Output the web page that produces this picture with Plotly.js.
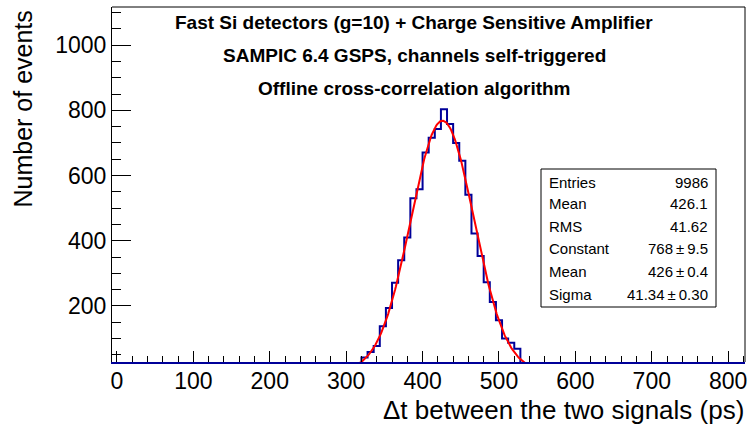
<!DOCTYPE html>
<html>
<head>
<meta charset="utf-8">
<script src="https://cdn.plot.ly/plotly-3.0.1.min.js"></script>
<style>
html,body{margin:0;padding:0;background:#fff;}
#chart{width:748px;height:425px;}
</style>
</head>
<body>
<div id="chart"></div>
<script>
// Histogram bins (lower edge, ps) and counts
var binStart = [320, 328, 336, 344, 352, 360, 368, 376, 384, 392, 400, 408, 416,
                424, 432, 440, 448, 456, 464, 472, 480, 488, 496, 504, 512, 520];
var binCounts = [42, 59, 77, 138, 194, 271, 340, 410, 530, 558, 671, 716, 743,
                 803, 758, 700, 645, 541, 422, 353, 273, 212, 156, 100, 87, 69];
var binWidth = 8;

// Fit parameters (from the stats box)
var fitConstant = 768;
var fitMean = 426;
var fitSigma = 41.34;

// Stats box rows
var statLabels = ["Entries", "Mean", "RMS", "Constant", "Mean", "Sigma"];
var statValues = ["9986", "426.1", "41.62", "768\u2009\u00b1\u20099.5", "426\u2009\u00b1\u20090.4", "41.34\u2009\u00b1\u20090.30"];

var titleLines = ["Fast Si detectors (g=10) + Charge Sensitive Amplifier",
                  "SAMPIC 6.4 GSPS, channels self-triggered",
                  "Offline cross-correlation algorithm"];

// histogram step outline
var hx = [binStart[0] - binWidth], hy = [0];
for (var i = 0; i < binStart.length; i++) { hx.push(binStart[i]); hy.push(binCounts[i]); }
hx.push(binStart[binStart.length - 1] + binWidth); hy.push(0);

// fit curve evaluated from the fit parameters
var fx = [], fy = [];
for (var t = 300; t <= 560; t += 1) {
  fx.push(t);
  fy.push(fitConstant * Math.exp(-0.5 * Math.pow((t - fitMean) / fitSigma, 2)));
}

var FONT = "Liberation Sans, Arial, Helvetica, sans-serif";

var traces = [
  {x: hx, y: hy, type: "scatter", mode: "lines", line: {shape: "hv", color: "#000099", width: 2}, hoverinfo: "skip"},
  {x: fx, y: fy, type: "scatter", mode: "lines", line: {color: "#ff0000", width: 2}, hoverinfo: "skip"}
];

var L = 112, R = 745, T = 7, B = 362;
function px(x){ return (x - L) / (R - L); }
function py(y){ return (B - y) / (B - T); }

var annotations = [];
var titleY = [22, 55, 88];
titleLines.forEach(function(s, k){
  annotations.push({xref:"paper", yref:"paper", x: px(414), y: py(titleY[k]), text: "<b>"+s+"</b>",
    showarrow:false, xanchor:"center", yanchor:"middle", font:{family:FONT, size:19, color:"#000"}});
});
var rowY = [182, 204, 226, 248, 271, 294];
statLabels.forEach(function(s, k){
  annotations.push({xref:"paper", yref:"paper", x: px(547), y: py(rowY[k]), text: s,
    showarrow:false, xanchor:"left", yanchor:"middle", font:{family:FONT, size:15, color:"#000"}});
  annotations.push({xref:"paper", yref:"paper", x: px(710), y: py(rowY[k]), text: statValues[k],
    showarrow:false, xanchor:"right", yanchor:"middle", font:{family:FONT, size:15, color:"#000"}});
});
annotations.push({xref:"paper", yref:"paper", x: px(22), y: py(9), text: "Number of events",
  textangle:-90, showarrow:false, xanchor:"center", yanchor:"top", font:{family:FONT, size:25, color:"#000"}});
annotations.push({xref:"paper", yref:"paper", x: px(746), y: py(410), text: "\u0394t between the two signals (ps)",
  showarrow:false, xanchor:"right", yanchor:"middle", font:{family:FONT, size:26, color:"#000"}});

var layout = {
  width: 748, height: 425,
  margin: {l: L, r: 748 - R, t: T, b: 425 - B},
  paper_bgcolor: "#fff", plot_bgcolor: "#fff",
  showlegend: false,
  font: {family: FONT, color: "#000"},
  xaxis: {range: [-6.5, 822], tick0: 0, dtick: 100, ticks: "inside", ticklen: 11, tickwidth: 1, tickcolor: "#000",
    minor: {dtick: 20, ticks: "inside", ticklen: 6, tickwidth: 1, tickcolor: "#000", showgrid: false},
    showgrid: false, zeroline: false, showline: true, linecolor: "#000099", linewidth: 2, mirror: false,
    ticklabelstandoff: -3,
    tickfont: {family: FONT, size: 23, color: "#000"}},
  yaxis: {range: [28, 1117], tick0: 0, dtick: 200, ticks: "inside", ticklen: 19, tickwidth: 1, tickcolor: "#000",
    minor: {dtick: 50, ticks: "inside", ticklen: 9, tickwidth: 1, tickcolor: "#000", showgrid: false},
    showgrid: false, zeroline: false, showline: true, linecolor: "#000", linewidth: 1, mirror: false,
    tickfont: {family: FONT, size: 23, color: "#000"}},
  shapes: [
    {type:"line", xref:"paper", yref:"paper", x0:0, x1:1, y0:1, y1:1, line:{color:"#000", width:1}},
    {type:"line", xref:"paper", yref:"paper", x0:1, x1:1, y0:0, y1:1, line:{color:"#000", width:1}},
    {type:"rect", xref:"paper", yref:"paper", x0:px(541), x1:px(716), y0:py(307), y1:py(169),
      line:{color:"#000", width:1}, fillcolor:"#fff", layer:"above"}
  ],
  annotations: annotations
};

Plotly.newPlot("chart", traces, layout, {displayModeBar: false, staticPlot: true});
</script>
</body>
</html>
